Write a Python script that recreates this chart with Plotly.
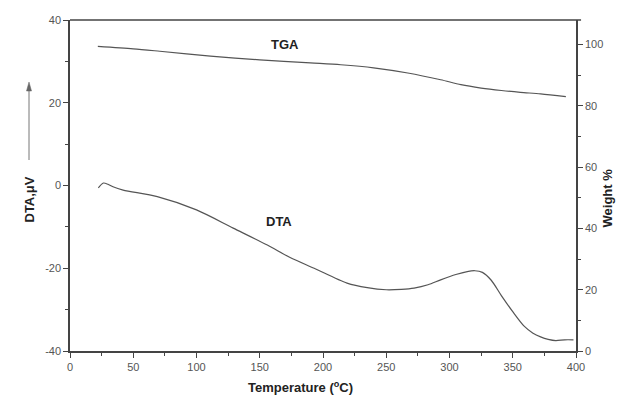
import plotly.graph_objects as go

# Data
tga_temp = [22, 50, 71, 111, 150, 190, 214, 240, 267, 293, 309, 325, 341, 356, 372, 392]
tga_weight = [99.4, 98.6, 97.8, 96.2, 95.0, 94.0, 93.4, 92.4, 90.7, 88.5, 86.9, 85.8, 85.0, 84.4, 83.9, 83.0]

dta_temp = [22.4, 26.4, 30, 34, 42, 69, 100, 129, 156, 174, 193, 219, 235, 250, 262, 272, 283, 293,
            305, 314, 320, 326, 333, 341, 350, 359, 366, 372, 378, 384, 391, 398]
dta_uv = [-0.6, 0.6, 0.3, -0.3, -1.1, -2.7, -5.9, -10.3, -14.4, -17.4, -20.0, -23.6, -24.7, -25.2,
          -25.1, -24.8, -24.0, -22.8, -21.5, -20.8, -20.6, -21.0, -22.9, -26.6, -30.5, -34.0,
          -35.7, -36.6, -37.2, -37.5, -37.3, -37.3]

x_ticks = [0, 50, 100, 150, 200, 250, 300, 350, 400]
left_ticks = [-40, -20, 0, 20, 40]
left_labels = ["-40", "-20", "0", "20", "40"]
right_ticks = [0, 20, 40, 60, 80, 100]

LINE = "#555555"
AX = "#444444"
FONT = "Liberation Sans, Arial, sans-serif"

fig = go.Figure()
fig.add_trace(go.Scatter(x=dta_temp, y=dta_uv, mode="lines",
                         line=dict(color=LINE, width=1.2, shape="spline", smoothing=0.8),
                         showlegend=False, hoverinfo="skip"))
fig.add_trace(go.Scatter(x=tga_temp, y=tga_weight, mode="lines", yaxis="y2",
                         line=dict(color=LINE, width=1.2, shape="spline", smoothing=0.8),
                         showlegend=False, hoverinfo="skip"))

tickfont = dict(family=FONT, size=11, color="#555555")
fig.update_layout(
    width=617, height=400,
    margin=dict(l=70, r=41, t=20, b=49),
    paper_bgcolor="white", plot_bgcolor="white",
    xaxis=dict(range=[0, 400], tickvals=x_ticks, showgrid=False, zeroline=False,
               showline=True, linecolor=AX, linewidth=1.5,
               ticks="outside", ticklen=5, tickwidth=1, tickcolor=AX,
               minor=dict(dtick=25, ticks="outside", ticklen=3, tickcolor=AX),
               tickfont=tickfont),
    yaxis=dict(range=[-40, 40], tickvals=left_ticks, ticktext=left_labels,
               showgrid=False, zeroline=False,
               showline=True, linecolor=AX, linewidth=1.5,
               ticks="outside", ticklen=5, tickwidth=1, tickcolor=AX,
               minor=dict(dtick=10, ticks="outside", ticklen=3, tickcolor=AX),
               tickfont=tickfont),
    yaxis2=dict(range=[0, 108], tickvals=right_ticks, overlaying="y", side="right",
                showgrid=False, zeroline=False,
                showline=True, linecolor=AX, linewidth=1.5,
                ticks="outside", ticklen=5, tickwidth=1, tickcolor=AX,
                minor=dict(dtick=10, ticks="outside", ticklen=3, tickcolor=AX),
                tickfont=tickfont),
)

# top border line
fig.add_shape(type="line", xref="paper", yref="paper", x0=0, x1=1.01, y0=1, y1=1,
              line=dict(color=AX, width=1.5))
# arrow next to the left axis title
fig.add_shape(type="line", xref="paper", yref="paper",
              x0=(29 - 70) / 506, x1=(29 - 70) / 506,
              y0=(351 - 160) / 331, y1=(351 - 88) / 331,
              line=dict(color="#777777", width=1))
fig.add_shape(type="path", xref="paper", yref="paper",
              path="M {x0} {y0} L {x1} {y1} L {x2} {y0} Z".format(
                  x0=(26.5 - 70) / 506, x1=(29 - 70) / 506, x2=(31.5 - 70) / 506,
                  y0=(351 - 91) / 331, y1=(351 - 82) / 331),
              fillcolor="#666666", line=dict(color="#666666", width=0.5))

bold = dict(family=FONT, size=13, color="#222222")
fig.add_annotation(x=170, y=34.2, xref="x", yref="y", text="<b>TGA</b>", showarrow=False, font=bold)
fig.add_annotation(x=165, y=-8.8, xref="x", yref="y", text="<b>DTA</b>", showarrow=False, font=bold)

# axis titles
fig.add_annotation(x=(300 - 70) / 506, y=(351 - 387) / 331, xref="paper", yref="paper",
                   yanchor="middle",
                   text="<b>Temperature (<sup>o</sup>C)</b>", showarrow=False, font=bold)
fig.add_annotation(x=(19 - 70) / 506, y=(351 - 200) / 331, xref="paper", yref="paper",
                   text="<b>DTA,μV</b>", textangle=-90, showarrow=False, font=bold)
fig.add_annotation(x=(616 - 70) / 506, y=(351 - 198) / 331, xref="paper", yref="paper",
                   text="<b>Weight %</b>", textangle=-90, showarrow=False, font=bold)

fig.write_html("out.html")
